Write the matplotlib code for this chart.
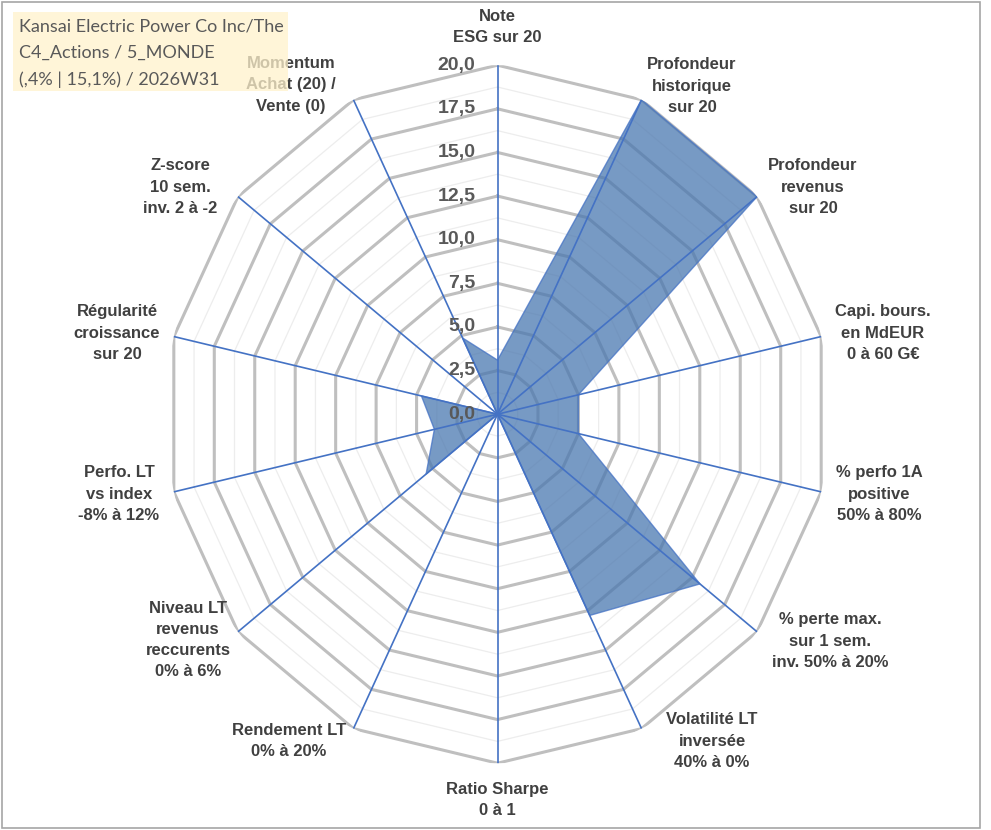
import numpy as np
import matplotlib.pyplot as plt
from matplotlib.patches import Rectangle
from matplotlib import transforms

W, H = 991, 830

# axes of the radar, clockwise from the top
categories = ["Note\nESG sur 20",
              "Profondeur\nhistorique\nsur 20",
              "Profondeur\nrevenus\nsur 20",
              "Capi. bours.\nen MdEUR\n0 à 60 G€",
              "% perfo 1A\npositive\n50% à 80%",
              "% perte max.\nsur 1 sem.\ninv. 50% à 20%",
              "Volatilité LT\ninversée\n40% à 0%",
              "Ratio Sharpe\n0 à 1",
              "Rendement LT\n0% à 20%",
              "Niveau LT\nrevenus\nreccurents\n0% à 6%",
              "Perfo. LT\nvs index\n-8% à 12%",
              "Régularité\ncroissance\nsur 20",
              "Z-score\n10 sem.\ninv. 2 à -2",
              "Momentum\nAchat (20) /\nVente (0)"]

scores = [3.1, 20.0, 20.0, 5.0, 5.0, 15.6, 12.8, 0.0, 0.0, 5.5, 3.9, 4.7, 0.0, 4.85]

ring_values = [0.0, 2.5, 5.0, 7.5, 10.0, 12.5, 15.0, 17.5, 20.0]
ring_labels = ["0,0", "2,5", "5,0", "7,5", "10,0", "12,5", "15,0", "17,5", "20,0"]
minor_rings = [1.25, 3.75, 6.25, 8.75, 11.25, 13.75, 16.25, 18.75]

title_lines = "Kansai Electric Power Co Inc/The\nC4_Actions / 5_MONDE\n(,4% | 15,1%) / 2026W31"

# label centres in pixels (layout only)
label_pos = [(497, 27), (692, 86), (813, 187), (883, 333), (879, 494),
             (830, 641), (712, 741), (497, 800), (289, 741), (188, 640),
             (119, 494), (117, 333), (180, 187), (291, 85)]

blue = '#4472C4'
grey_txt = '#404040'

fig = plt.figure(figsize=(W / 100, H / 100), dpi=100)
fig.patch.set_facecolor('white')

# centre (497.5, 414.2), radii 332 x 349 px
cx, cy, rx, ry = 497.5, 414.2, 332, 349
ax = fig.add_axes([(cx - rx) / W, (H - cy - ry) / H, 2 * rx / W, 2 * ry / H], polar=True)
ax.set_aspect('auto')
ax.set_theta_zero_location('N')
ax.set_theta_direction(-1)
ax.set_ylim(0, 20)
ax.set_xticks([])
ax.set_yticks([])
ax.grid(False)
ax.spines['polar'].set_visible(False)

n = len(categories)
theta = np.linspace(0, 2 * np.pi, n, endpoint=False)
theta_c = np.append(theta, theta[0])

# polygon grid
for r in minor_rings:
    ax.plot(theta_c, [r] * (n + 1), color='#EDEDED', lw=0.9, zorder=1)
for r in ring_values[1:]:
    ax.plot(theta_c, [r] * (n + 1), color='#BFBFBF', lw=2.2, zorder=2)

# data
vals = np.append(scores, scores[0])
ax.fill(theta_c, vals, facecolor='#4A78B0', alpha=0.75, edgecolor=blue, lw=1.0, zorder=3)

# spokes
for t in theta:
    ax.plot([t, t], [0, 20], color=blue, lw=1.2, zorder=4)

# ring values on the vertical axis
off = transforms.offset_copy(ax.transData, fig=fig, x=-22, y=0, units='dots')
for r, s in zip(ring_values, ring_labels):
    ax.text(0, r, s, transform=off, ha='right', va='center', fontsize=14,
            fontweight='bold', color='#595959', family='Liberation Sans', zorder=5)

# category labels
for (x, y), lab in zip(label_pos, categories):
    fig.text(x / W, 1 - y / H, lab, ha='center', va='center', multialignment='center',
             fontsize=12, fontweight='bold', color=grey_txt, family='Liberation Sans',
             linespacing=1.52, zorder=3)

# title box drawn over the chart
fig.add_artist(Rectangle((13 / W, 1 - 91 / H), 275 / W, 79 / H, transform=fig.transFigure,
                         facecolor='#FFF2CC', edgecolor='none', alpha=0.75, zorder=10))
fig.text(19 / W, 1 - 53 / H, title_lines, ha='left', va='center', fontsize=13,
         color='#595959', family='Lato', linespacing=1.78, zorder=11)

# outer frame
fig.add_artist(Rectangle((2 / W, 2 / H), 978 / W, 826 / H, transform=fig.transFigure,
                         facecolor='none', edgecolor='#A6A6A6', lw=1.2, zorder=12))

plt.savefig('out.png', dpi=100)
